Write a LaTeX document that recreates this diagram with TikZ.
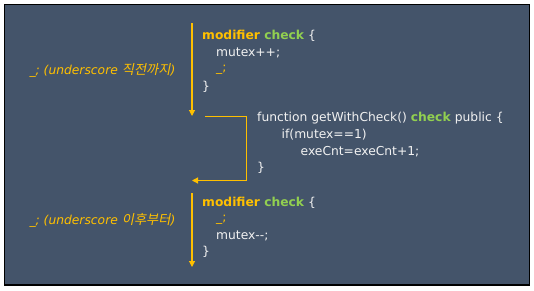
\documentclass[tikz,border=0pt]{standalone}
\usepackage{fontspec}
\setmainfont{DejaVu Sans}
\newfontfamily\krfont[FakeSlant=0.2,Scale=1.08]{Noto Sans CJK KR}
\usetikzlibrary{arrows.meta}
\definecolor{bgc}{RGB}{68,84,106}
\definecolor{orc}{RGB}{255,192,0}
\definecolor{grc}{RGB}{146,208,80}
\definecolor{txc}{RGB}{242,242,242}
\tikzset{
  code/.style={anchor=west,inner sep=0pt,text=txc,font=\fontsize{12.3}{14}\selectfont},
  lbl/.style={anchor=center,inner sep=0pt,text=orc,font=\fontsize{12.3}{14}\selectfont\itshape},
  flow/.style={draw=orc,line width=1.1pt,-{Triangle[length=6pt,width=6pt]}},
}
\begin{document}
\begin{tikzpicture}[x=1pt,y=-1pt]
\useasboundingbox (0,0) rectangle (534,290);
\fill[white] (0,0) rectangle (534,290);
\draw[fill=bgc,draw=black,line width=1.5pt] (4.5,4.5) rectangle (529.5,285);
% top modifier
\node[code] (m1a) at (202,36) {\textbf{\textcolor{orc}{modifier} \textcolor{grc}{check}} \{};
\node[code] (m1b) at (216,53) {mutex++;};
\node[code,text=orc] (m1c) at (216,70) {\_;};
\node[code] (m1d) at (202,87) {\}};
\coordinate (a1s) at (192,23);
\coordinate (a1e) at (192,116);
\draw[flow] (a1s) -- (a1e);
\node[lbl] (l1) at (102.5,70) {\_; (underscore {\krfont 직전까지})};
% function
\node[code] (f1) at (257,118) {function getWithCheck() \textcolor{grc}{\textbf{check}} public \{};
\node[code] (f2) at (281.5,134.5) {if(mutex==1)};
\node[code] (f3) at (300.5,152) {exeCnt=exeCnt+1;};
\node[code] (f4) at (257,168) {\}};
\coordinate (e1) at (205,116.5);
\coordinate (e2) at (246.5,116.5);
\coordinate (e3) at (246.5,180.5);
\coordinate (e4) at (192,180.5);
\draw[flow] (e1) -- (e2) -- (e3) -- (e4);
% bottom modifier
\node[code] (m2a) at (202,203) {\textbf{\textcolor{orc}{modifier} \textcolor{grc}{check}} \{};
\node[code,text=orc] (m2b) at (216,219.5) {\_;};
\node[code] (m2c) at (216,236) {mutex\mbox{-}\mbox{-};};
\node[code] (m2d) at (202,252) {\}};
\coordinate (a2s) at (192,193);
\coordinate (a2e) at (192,267);
\draw[flow] (a2s) -- (a2e);
\node[lbl] (l2) at (102.5,220.5) {\_; (underscore {\krfont 이후부터})};
\end{tikzpicture}
\end{document}
